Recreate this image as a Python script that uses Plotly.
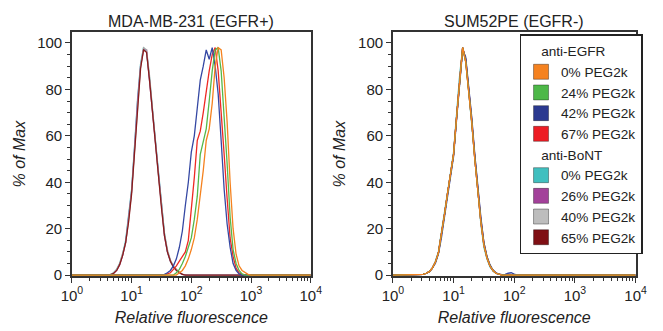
import numpy as np
import plotly.graph_objects as go

# ---------------- DATA ----------------
panel_titles = ["MDA-MB-231 (EGFR+)", "SUM52PE (EGFR-)"]
x_title = "Relative fluorescence"
y_title = "% of Max"
x_tick_vals = [1, 10, 100, 1000, 10000]
x_tick_text = ["10<sup>0</sup>", "10<sup>1</sup>", "10<sup>2</sup>", "10<sup>3</sup>", "10<sup>4</sup>"]
y_tick_vals = [0, 20, 40, 60, 80, 100]

egfr_title = "anti-EGFR"
bont_title = "anti-BoNT"
egfr_labels = ["0% PEG2k", "24% PEG2k", "42% PEG2k", "67% PEG2k"]
bont_labels = ["0% PEG2k", "26% PEG2k", "40% PEG2k", "65% PEG2k"]
egfr_colors = ["#F5821F", "#55B848", "#3447A3", "#EE2A24"]
bont_colors = ["#45C3C3", "#A8449C", "#A9A9A9", "#8A1C1C"]
egfr_legend_colors = ["#F58220", "#4DB848", "#2B3990", "#ED1C24"]
bont_legend_colors = ["#40BFBF", "#A3419A", "#BDBDBD", "#7F0F14"]

# Left panel (MDA-MB-231): log10 fluorescence grids (start, step 0.05)
left_bont_start = 0.60
left_bont = {
    "0% PEG2k":  [0, 0.3, 1, 2.5, 5, 9, 15, 25, 37, 56, 76, 91, 98, 96, 85, 71, 57, 43, 30, 18, 10, 6, 3.5, 2, 1, 0.3, 0, 0, 0],
    "26% PEG2k": [0, 0.2, 0.8, 2, 4.5, 8.5, 14, 24, 36, 55, 75, 90, 97, 97, 84, 70, 56, 42, 29, 17, 10, 6, 3.5, 2, 1, 0.3, 0, 0, 0],
    "40% PEG2k": [0, 0.3, 1, 2.5, 5, 9, 14, 24, 36, 54, 74, 90, 98, 97, 86, 71, 57, 43, 31, 18, 11, 6.5, 4, 2.5, 1.2, 0.4, 0, 0, 0],
    "65% PEG2k": [0, 0.2, 0.8, 2, 4.5, 8.5, 14, 23, 35, 54, 74, 89, 97, 96, 84, 70, 55, 41, 29, 17, 10, 6, 3.5, 2, 1, 0.3, 0, 0, 0],
}
left_egfr_start = 1.50
left_egfr = {
    "0% PEG2k":  [0, 0, 0, 0, 0, 0, 1, 2, 4, 7, 11, 16, 24, 34, 45, 58, 63, 74, 90, 98, 97, 85, 66, 40, 20, 9, 4, 2, 1, 0.3, 0, 0],
    "24% PEG2k": [0, 0, 0, 0, 0, 1, 2.5, 5, 8, 12, 16, 24, 34, 52, 58, 63, 75, 88, 97, 98, 88, 70, 48, 25, 11, 5, 2, 0.5, 0, 0, 0, 0],
    "42% PEG2k": [0, 0.3, 1, 2, 4, 7, 12, 19, 30, 40, 53, 60, 72, 84, 90, 97, 93, 98, 90, 78, 58, 37, 22, 12, 5, 2, 0.5, 0, 0, 0, 0, 0],
    "67% PEG2k": [0, 0, 0.5, 1, 2.5, 4, 6, 8, 10, 15, 28, 42, 58, 62, 70, 80, 88, 95, 98, 88, 72, 52, 33, 16, 8, 3, 1, 0.3, 0, 0, 0, 0],
}

# Right panel (SUM52PE)
right_start = 0.45
right_bont = {
    "0% PEG2k":  [0, 0.3, 0.8, 1.5, 3, 6, 10, 18, 27, 36, 44, 53, 69, 86, 98, 92, 79, 65, 49, 34, 22, 12, 7, 3.5, 1.8, 0.7, 0.2, 0, 0, 0, 0, 0, 0, 0],
    "26% PEG2k": [0, 0.3, 0.8, 1.5, 3, 5.5, 9.5, 17, 26, 35, 43, 52, 68, 85, 98, 93, 80, 66, 50, 35, 23, 13, 7.5, 4, 2, 0.8, 0.3, 0, 0, 0, 0, 0, 0, 0],
    "40% PEG2k": [0, 0.3, 0.8, 1.5, 3, 5.5, 9.5, 17, 26, 35, 43, 52, 68, 85, 97, 93, 80, 66, 50, 35, 23, 13, 7.5, 4, 2, 0.8, 0.3, 0, 0, 0, 0, 0, 0, 0],
    "65% PEG2k": [0, 0.3, 0.8, 1.5, 3, 5.5, 9.5, 17, 26, 35, 43, 52, 68, 85, 98, 93, 81, 67, 51, 36, 24, 14, 8, 4, 2, 0.8, 0.3, 0, 0, 0, 0, 0, 0, 0],
}
right_egfr = {
    "0% PEG2k":  [0, 0.3, 0.8, 1.5, 3, 5.5, 9.5, 17, 26, 35, 43, 52, 68, 85, 98, 92, 80, 66, 50, 35, 23, 13, 7.5, 4, 2, 0.8, 0.3, 0, 0, 0, 0, 0, 0, 0],
    "24% PEG2k": [0, 0.3, 0.8, 1.5, 3, 5.5, 9.5, 17, 26, 35, 43, 52, 68, 85, 98, 92, 80, 66, 50, 35, 23, 13, 7.5, 4, 2, 0.8, 0.3, 0, 0, 0, 0, 0, 0, 0],
    "42% PEG2k": [0, 0.3, 0.8, 1.5, 3, 5, 9, 16, 25, 34, 42, 51, 67, 84, 97, 94, 82, 68, 52, 37, 25, 14, 8, 4.5, 2.2, 1, 0.4, 0.2, 0.3, 0.8, 1, 0.4, 0, 0],
    "67% PEG2k": [0, 0.3, 0.8, 1.5, 3, 5.5, 9.5, 17, 26, 35, 43, 52, 68, 85, 98, 92, 80, 66, 50, 35, 23, 13, 7.5, 4, 2, 0.8, 0.3, 0, 0, 0, 0, 0, 0, 0],
}
grid_step = 0.05

# ---------------- FIGURE ----------------
FONT = "Liberation Sans, Arial, sans-serif"
W, H = 663, 331
NB = "\u00a0"

def xs_for(start, n):
    return [1.0] + [10 ** (start + grid_step * i) for i in range(n)] + [1e4]

def ys_for(vals):
    return [0] + list(vals) + [0]

fig = go.Figure()

def add_group(curves, labels, colors, start, xa, ya):
    for lab, col in zip(labels, colors):
        v = curves[lab]
        fig.add_trace(go.Scatter(x=xs_for(start, len(v)), y=ys_for(v), mode="lines",
                                 line=dict(color=col, width=1.3), showlegend=False,
                                 xaxis=xa, yaxis=ya, hoverinfo="skip"))

# draw order: anti-BoNT first, then anti-EGFR (orange on top)
add_group(left_bont, bont_labels, bont_colors, left_bont_start, "x", "y")
add_group(left_egfr, egfr_labels[::-1], egfr_colors[::-1], left_egfr_start, "x", "y")
add_group(right_bont, bont_labels, bont_colors, right_start, "x2", "y2")
add_group(right_egfr, egfr_labels[::-1], egfr_colors[::-1], right_start, "x2", "y2")

# legend entries
def add_legend_group(labels, colors, group, title):
    for i, (lab, col) in enumerate(zip(labels, colors)):
        fig.add_trace(go.Scatter(x=[None], y=[None], mode="markers", name=lab,
                                 marker=dict(symbol="square", size=15, color=col,
                                             line=dict(color="rgba(0,0,0,0.35)", width=1)),
                                 legendgroup=group,
                                 legendgrouptitle=dict(text=NB * 4 + title) if i == 0 else None,
                                 xaxis="x2", yaxis="y2"))

add_legend_group(egfr_labels, egfr_legend_colors, "egfr", egfr_title)
add_legend_group(bont_labels, bont_legend_colors, "bont", bont_title)

minor_x = [m * 10 ** d for d in range(4) for m in range(2, 10)]

def px_x(a, b):
    return [a / W, b / W]

ydom = [1 - 282 / H, 1 - 33 / H]
axis_common = dict(showline=True, mirror=True, linecolor="#333333", linewidth=1.5,
                   showgrid=False, zeroline=False, ticks="outside", tickcolor="#333333",
                   tickfont=dict(family=FONT, size=15, color="#222222"))

xcfg = dict(type="log", range=[0, 4], tickvals=x_tick_vals, ticktext=x_tick_text, ticklen=5,
            minor=dict(tickvals=minor_x, ticks="outside", ticklen=3, tickcolor="#333333"),
            title=dict(text="<i>" + x_title + "</i>", font=dict(family=FONT, size=16, color="#222222"),
                       standoff=9),
            **axis_common)
ycfg = dict(range=[-0.4, 104.6], tickvals=y_tick_vals, ticklen=5,
            minor=dict(dtick=5, ticks="outside", ticklen=3, tickcolor="#333333"),
            title=dict(text="<i>" + y_title + "</i>", font=dict(family=FONT, size=16, color="#222222"),
                       standoff=8),
            **axis_common)

fig.update_layout(
    width=W, height=H, margin=dict(l=0, r=0, t=0, b=0),
    paper_bgcolor="white", plot_bgcolor="white",
    font=dict(family=FONT, size=14, color="#222222"),
    xaxis=dict(domain=px_x(63, 310), anchor="y", **xcfg),
    yaxis=dict(domain=ydom, anchor="x", **ycfg),
    xaxis2=dict(domain=px_x(395, 646), anchor="y2", **xcfg),
    yaxis2=dict(domain=ydom, anchor="x2", **ycfg),
    legend=dict(x=526 / W, y=1 - 35 / H, xanchor="left", yanchor="top",
                bgcolor="white", bordercolor="#222222", borderwidth=1.5,
                font=dict(family=FONT, size=13.6, color="#222222"),
                grouptitlefont=dict(family=FONT, size=13.6, color="#222222"),
                traceorder="grouped", tracegroupgap=0, itemwidth=30),
    showlegend=True,
)

for title, (a, b) in zip(panel_titles, [(63, 310), (395, 646)]):
    fig.add_annotation(text=title, x=(a + b) / 2 / W, y=1 - 22 / H, xref="paper", yref="paper",
                       showarrow=False, xanchor="center", yanchor="middle",
                       font=dict(family=FONT, size=16, color="#222222"))

fig.write_html("out.html")
